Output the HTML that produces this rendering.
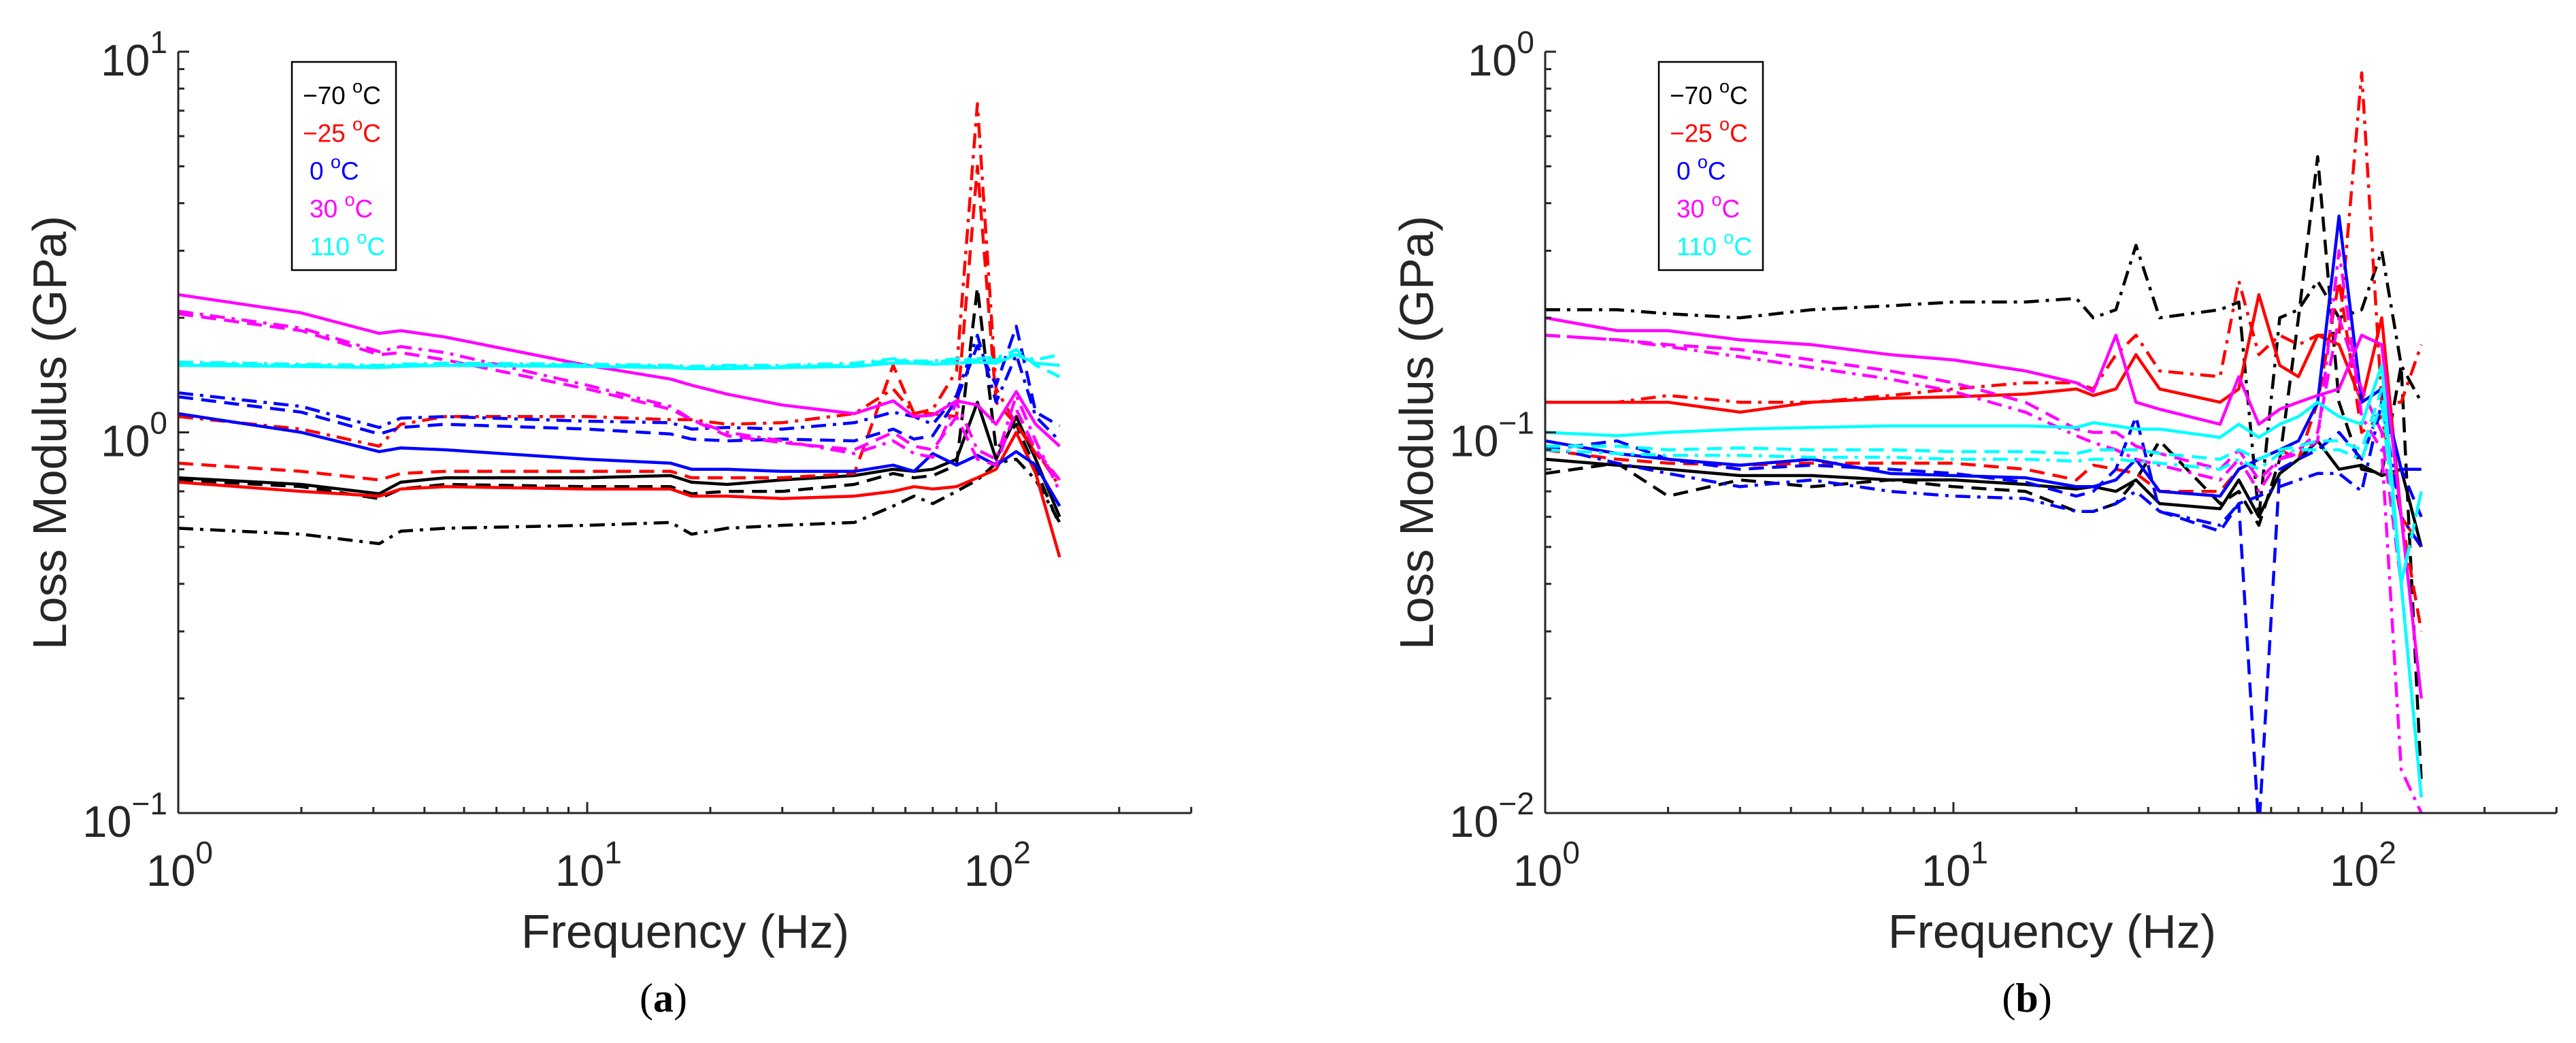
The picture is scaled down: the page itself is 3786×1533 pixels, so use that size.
<!DOCTYPE html>
<html><head><meta charset="utf-8">
<style>
html,body{margin:0;padding:0;background:#fff;}
svg{display:block;}
text{font-family:"Liberation Sans",sans-serif;}
</style></head>
<body>
<svg id="fig" width="3786" height="1533" viewBox="0 0 3786 1533" xmlns="http://www.w3.org/2000/svg">
<defs>
<clipPath id="clipA"><rect x="262" y="76" width="1489" height="1119"/></clipPath>
<clipPath id="clipB"><rect x="2271" y="76" width="1489" height="1119"/></clipPath>
</defs>
<g id="panelA"></g>
<g id="panelB"></g>
</svg>
<script>
// ---- data: panel (a) ----
const freqA = [1, 2, 3.1, 3.5, 4.5, 10, 16, 18, 22, 30, 45, 56, 63, 70, 80, 90, 100, 112, 125, 143];
const a_m70_solid = [0.76,0.73,0.69,0.74,0.76,0.76,0.77,0.74,0.73,0.75,0.77,0.80,0.79,0.80,0.85,1.20,0.85,1.10,0.85,0.60];
const a_m70_dash  = [0.75,0.72,0.67,0.71,0.73,0.72,0.72,0.69,0.70,0.70,0.73,0.78,0.76,0.77,0.82,2.40,0.90,1.05,0.80,0.57];
const a_m70_dd    = [0.56,0.54,0.51,0.55,0.56,0.57,0.58,0.54,0.56,0.57,0.58,0.64,0.68,0.65,0.70,0.75,0.83,0.85,0.75,0.58];
const a_m25_solid = [0.74,0.70,0.68,0.71,0.72,0.71,0.71,0.68,0.68,0.67,0.68,0.70,0.72,0.71,0.72,0.76,0.80,1.00,0.78,0.47];
const a_m25_dash  = [0.83,0.79,0.75,0.78,0.79,0.79,0.79,0.76,0.76,0.76,0.78,1.50,1.12,1.12,1.10,5.00,1.20,1.05,0.88,0.75];
const a_m25_dd    = [1.10,1.02,0.92,1.05,1.10,1.10,1.08,1.08,1.05,1.06,1.12,1.30,1.12,1.15,1.45,7.30,1.30,1.05,0.90,0.72];
const a_0_solid   = [1.12,1.00,0.89,0.91,0.90,0.85,0.83,0.80,0.80,0.79,0.79,0.82,0.79,0.88,0.82,0.87,0.82,0.89,0.82,0.64];
const a_0_dash    = [1.24,1.13,0.99,1.03,1.05,1.02,0.99,0.96,0.95,0.96,0.95,1.02,0.96,0.98,1.22,1.69,1.33,1.90,1.13,1.04];
const a_0_dd      = [1.27,1.17,1.03,1.09,1.10,1.07,1.06,1.02,1.03,1.02,1.06,1.13,1.10,1.05,1.25,1.80,1.20,1.60,1.10,0.95];
const a_30_solid  = [2.30,2.06,1.82,1.85,1.78,1.50,1.38,1.33,1.26,1.18,1.12,1.21,1.10,1.11,1.21,1.18,1.05,1.28,1.05,0.92];
const a_30_dash   = [2.05,1.85,1.60,1.62,1.55,1.30,1.15,1.08,0.98,0.94,0.90,1.00,0.92,0.90,1.10,0.85,0.82,1.15,0.90,0.75];
const a_30_dd     = [2.08,1.88,1.63,1.68,1.62,1.33,1.17,1.08,1.00,0.95,0.88,0.95,0.88,0.86,1.20,0.90,0.85,1.25,0.95,0.70];
const a_110_solid = [1.50,1.49,1.48,1.49,1.50,1.49,1.48,1.47,1.47,1.48,1.49,1.52,1.52,1.51,1.52,1.53,1.52,1.60,1.52,1.50];
const a_110_dash  = [1.52,1.50,1.49,1.50,1.51,1.50,1.49,1.48,1.49,1.49,1.50,1.55,1.53,1.53,1.55,1.55,1.55,1.65,1.50,1.40];
const a_110_dd    = [1.53,1.51,1.50,1.51,1.52,1.51,1.50,1.49,1.50,1.50,1.52,1.56,1.54,1.54,1.56,1.56,1.58,1.60,1.55,1.60];
// ---- data: panel (b) ----
const freqB = [1, 1.5, 2, 3, 4.5, 7, 10, 15, 20, 22, 25, 28, 32, 45, 50, 56, 63, 70, 78, 88, 100, 112, 125, 140];
const b_m70_solid = [0.085,0.082,0.080,0.077,0.077,0.075,0.075,0.073,0.071,0.072,0.070,0.075,0.065,0.063,0.075,0.060,0.078,0.085,0.095,0.080,0.082,0.077,0.080,0.050];
const b_m70_dash  = [0.078,0.083,0.068,0.075,0.072,0.075,0.072,0.070,0.062,0.062,0.065,0.075,0.095,0.065,0.070,0.057,0.085,0.200,0.530,0.120,0.080,0.078,0.150,0.012];
const b_m70_dd    = [0.210,0.210,0.205,0.200,0.210,0.215,0.220,0.220,0.225,0.200,0.210,0.310,0.200,0.210,0.220,0.060,0.200,0.210,0.250,0.200,0.210,0.300,0.150,0.120];
const b_m25_solid = [0.120,0.120,0.120,0.113,0.120,0.123,0.124,0.126,0.130,0.125,0.130,0.160,0.130,0.120,0.130,0.230,0.150,0.140,0.180,0.170,0.120,0.200,0.060,0.050];
const b_m25_dash  = [0.090,0.085,0.083,0.082,0.083,0.083,0.083,0.080,0.075,0.082,0.080,0.078,0.070,0.070,0.080,0.085,0.090,0.085,0.120,0.250,0.100,0.110,0.060,0.030];
const b_m25_dd    = [0.120,0.120,0.125,0.120,0.120,0.125,0.130,0.135,0.135,0.130,0.160,0.180,0.145,0.140,0.250,0.160,0.180,0.170,0.180,0.180,0.880,0.120,0.120,0.170];
const b_0_solid   = [0.095,0.088,0.085,0.082,0.085,0.078,0.077,0.076,0.072,0.072,0.075,0.085,0.070,0.068,0.080,0.085,0.090,0.095,0.120,0.370,0.120,0.130,0.080,0.080];
const b_0_dash    = [0.090,0.095,0.085,0.080,0.082,0.080,0.078,0.074,0.068,0.070,0.080,0.110,0.062,0.055,0.065,0.009,0.080,0.085,0.090,0.100,0.085,0.120,0.080,0.060];
const b_0_dd      = [0.092,0.083,0.078,0.072,0.075,0.070,0.068,0.067,0.062,0.062,0.065,0.070,0.062,0.057,0.065,0.068,0.072,0.075,0.078,0.078,0.070,0.120,0.060,0.050];
const b_30_solid  = [0.200,0.185,0.185,0.175,0.170,0.160,0.155,0.145,0.135,0.128,0.180,0.120,0.115,0.105,0.140,0.105,0.115,0.120,0.125,0.130,0.180,0.170,0.060,0.020];
const b_30_dash   = [0.180,0.175,0.170,0.165,0.155,0.145,0.135,0.120,0.102,0.100,0.100,0.092,0.088,0.080,0.090,0.075,0.085,0.090,0.100,0.200,0.130,0.100,0.040,0.011];
const b_30_dd     = [0.180,0.175,0.168,0.158,0.148,0.138,0.128,0.113,0.098,0.094,0.090,0.085,0.082,0.075,0.085,0.070,0.085,0.088,0.095,0.300,0.110,0.090,0.013,0.010];
const b_110_solid = [0.100,0.098,0.100,0.102,0.103,0.104,0.104,0.104,0.103,0.106,0.104,0.102,0.102,0.097,0.105,0.097,0.105,0.110,0.120,0.110,0.105,0.150,0.040,0.011];
const b_110_dash  = [0.092,0.092,0.090,0.091,0.090,0.090,0.089,0.089,0.088,0.090,0.090,0.090,0.088,0.085,0.090,0.085,0.090,0.092,0.095,0.095,0.090,0.130,0.040,0.070];
const b_110_dd    = [0.090,0.088,0.087,0.087,0.086,0.086,0.085,0.085,0.084,0.085,0.085,0.084,0.083,0.080,0.085,0.080,0.088,0.090,0.090,0.090,0.085,0.120,0.040,0.070];
const legendLabels = ["\u221270", "\u221225", "0", "30", "110"];
const xTickExp = [0, 1, 2];

const NS = "http://www.w3.org/2000/svg";
const COLORS = ["#000000", "#ff0000", "#0000ff", "#ff00ff", "#00ffff"];
const DASH = {solid: null, dash: "22,12", dd: "22,10,5,10"};
function mk(tag, attrs, parent) {
  const e = document.createElementNS(NS, tag);
  for (const k in attrs) e.setAttribute(k, attrs[k]);
  parent.appendChild(e);
  return e;
}
function buildPanel(g, cfg) {
  const x0 = cfg.x0, dec = cfg.dec, yTop = 76, yBot = 1195;
  const xMax = Math.log10(300);
  const yDec = (yBot - yTop) / (cfg.yMaxExp - cfg.yMinExp);
  const sx = f => x0 + Math.log10(f) * dec;
  const sy = v => yTop + (cfg.yMaxExp - Math.log10(v)) * yDec;
  const xEnd = x0 + xMax * dec;
  // series
  const sg = mk("g", {"clip-path": "url(#" + cfg.clip + ")"}, g);
  
  
  cfg.series.forEach(s => {
    const d = s.vals.map((v, i) => (i ? "L" : "M") + sx(cfg.freq[i]).toFixed(1) + "," + sy(Math.max(v, 1e-4)).toFixed(1)).join("");
    const p = mk("path", {d: d, fill: "none", stroke: COLORS[s.c], "stroke-width": 4.5, "stroke-linejoin": "round"}, sg);
    if (DASH[s.st]) p.setAttribute("stroke-dasharray", DASH[s.st]);
    
    
  });
  // axes
  const ax = mk("g", {stroke: "#262626", "stroke-width": 3, fill: "none"}, g);
  
  
  const yl = mk("line", {x1: x0, y1: yTop, x2: x0, y2: yBot}, ax);
  
  
  const xl = mk("line", {x1: x0, y1: yBot, x2: xEnd, y2: yBot}, ax);
  
  
  for (let e = cfg.yMinExp; e <= cfg.yMaxExp; e++) {
    for (let m = 1; m <= 9; m++) {
      const v = m * Math.pow(10, e);
      if (e === cfg.yMaxExp && m > 1) break;
      const y = sy(v);
      mk("line", {x1: x0, y1: y, x2: x0 + (m === 1 ? 16 : 9), y2: y}, ax);
    }
  }
  for (let e = 0; e <= 2; e++) {
    for (let m = 1; m <= 9; m++) {
      const f = m * Math.pow(10, e);
      if (Math.log10(f) > xMax) break;
      const x = sx(f);
      mk("line", {x1: x, y1: yBot, x2: x, y2: yBot - (m === 1 ? 16 : 9)}, ax);
    }
  }
  // y tick labels
  for (let e = cfg.yMinExp; e <= cfg.yMaxExp; e++) {
    const y = sy(Math.pow(10, e));
    const t = mk("text", {x: x0 - 16, y: y + 35, "text-anchor": "end", "font-size": 65, fill: "#262626"}, g);
    
    
    t.appendChild(document.createTextNode("10"));
    const sp = mk("tspan", {"font-size": 46, dy: -33}, t);
    sp.textContent = e < 0 ? "\u2212" + (-e) : String(e);
  }
  // x tick labels
  xTickExp.forEach(e => {
    const x = sx(Math.pow(10, e));
    const t = mk("text", {x: x + 2, y: 1302, "text-anchor": "middle", "font-size": 65, fill: "#262626"}, g);
    
    
    t.appendChild(document.createTextNode("10"));
    const sp = mk("tspan", {"font-size": 46, dy: -33}, t);
    sp.textContent = String(e);
  });
  // axis titles
  const xt = mk("text", {x: x0 + 745, y: 1393, "text-anchor": "middle", "font-size": 70, fill: "#262626"}, g);
  
  
  xt.textContent = "Frequency (Hz)";
  const yx = cfg.yLabelX;
  const yt = mk("text", {x: yx, y: 636, "text-anchor": "middle", "font-size": 70, fill: "#262626", transform: "rotate(-90 " + yx + " 636)"}, g);
  
  
  yt.textContent = "Loss Modulus (GPa)";
  // legend
  const lg = mk("g", {}, g);
  
  
  const lx = x0 + 167;
  mk("rect", {x: lx, y: 91, width: 153, height: 306, fill: "#fff", stroke: "#000", "stroke-width": 2.5}, lg);
  legendLabels.forEach((lab, i) => {
    const t = mk("text", {x: lx + (lab.charAt(0) === "\u2212" ? 16 : 26), y: 153 + i * 55.5, "font-size": 37, fill: COLORS[i]}, lg);
    
    
    t.appendChild(document.createTextNode(lab + " "));
    const o = mk("tspan", {"font-size": 27, dy: -17}, t);
    o.textContent = "o";
    const c = mk("tspan", {dy: 17}, t);
    c.textContent = "C";
  });
  // panel caption
  const cap = mk("text", {x: cfg.capX, y: 1487, "text-anchor": "middle", "font-size": 60, fill: "#000", style: "font-family:'Liberation Serif',serif"}, g);
  
  
  cap.appendChild(document.createTextNode("("));
  const b = mk("tspan", {"font-weight": "bold"}, cap);
  b.textContent = cfg.cap;
  cap.appendChild(document.createTextNode(")"));
}
function seriesList(p, src) {
  const names = ["m70", "m25", "0", "30", "110"];
  const out = [];
  names.forEach((n, c) => {
    ["solid", "dash", "dd"].forEach(st => {
      out.push({vals: src[p + "_" + n + "_" + st], c: c, st: st, name: "series-" + n + "c-" + st});
    });
  });
  return out;
}
const srcA = {a_m70_solid, a_m70_dash, a_m70_dd, a_m25_solid, a_m25_dash, a_m25_dd, a_0_solid, a_0_dash, a_0_dd, a_30_solid, a_30_dash, a_30_dd, a_110_solid, a_110_dash, a_110_dd};
const srcB = {b_m70_solid, b_m70_dash, b_m70_dd, b_m25_solid, b_m25_dash, b_m25_dd, b_0_solid, b_0_dash, b_0_dd, b_30_solid, b_30_dash, b_30_dd, b_110_solid, b_110_dash, b_110_dd};
buildPanel(document.getElementById("panelA"), {x0: 262, dec: 601, yMaxExp: 1, yMinExp: -1, clip: "clipA", freq: freqA, series: seriesList("a", srcA), yLabelX: 97, capX: 975, cap: "a"});
buildPanel(document.getElementById("panelB"), {x0: 2271, dec: 600, yMaxExp: 0, yMinExp: -2, clip: "clipB", freq: freqB, series: seriesList("b", srcB), yLabelX: 2106, capX: 2979, cap: "b"});
</script>
</body></html>
